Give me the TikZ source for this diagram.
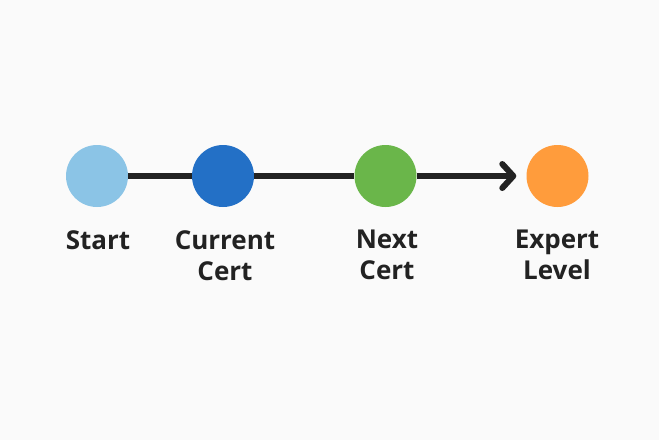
\documentclass[tikz,border=0pt]{standalone}
\usepackage{fontspec}
\setmainfont{Open Sans}
\usetikzlibrary{arrows.meta}
\definecolor{bgc}{HTML}{FAFAFA}
\definecolor{cstart}{HTML}{8BC4E6}
\definecolor{ccur}{HTML}{2370C6}
\definecolor{cnext}{HTML}{6AB64A}
\definecolor{cexp}{HTML}{FF9C3C}
\definecolor{linec}{HTML}{222222}
\begin{document}
\begin{tikzpicture}[x=1pt,y=-1pt,
  dot/.style={circle,minimum size=62pt,inner sep=0pt},
  lbl/.style={anchor=north,inner sep=0pt,align=center,font=\fontsize{26}{31}\selectfont\bfseries,text=linec},
  conn/.style={draw=linec,line width=6pt}]
\fill[bgc] (0,0) rectangle (659,440);
\useasboundingbox (0,0) rectangle (659,440);
\node[dot,fill=cstart] (s) at (97,176) {};
\node[dot,fill=ccur] (c) at (223,176) {};
\node[dot,fill=cnext] (n) at (385.5,176) {};
\node[dot,fill=cexp] (e) at (557.5,176) {};
\draw[conn] (s) -- (c);
\draw[conn] (c) -- (n);
\draw[conn,-{Straight Barb[length=11pt,width=24pt,line cap=round,line join=round]}] (n) -- ([xshift=-10pt]e.west);
\node[lbl] (ls) at (98,230) {Start};
\node[lbl] (lc) at (225,230) {Current\\Cert};
\node[lbl] (ln) at (387,230) {Next\\Cert};
\node[lbl] (le) at (557,230) {Expert\\Level};
\end{tikzpicture}
\end{document}
